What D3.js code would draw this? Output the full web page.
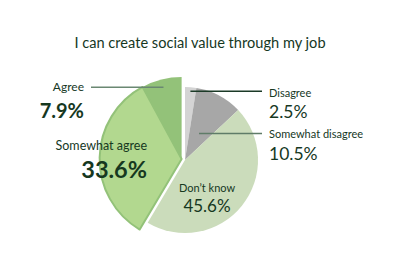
<!DOCTYPE html>
<html>
<head>
<meta charset="utf-8">
<script src="https://cdn.jsdelivr.net/npm/d3@7"></script>
<style>
  body { margin: 0; background: #fff; }
  text { font-family: Lato, "Noto Sans", sans-serif; fill: #16381f; }
</style>
</head>
<body>
<div id="chart"></div>
<script>
const title = 'I can create social value through my job';
const categories = ['Disagree', 'Somewhat disagree', 'Don’t know', 'Somewhat agree', 'Agree'];
const values = [2.5, 10.5, 45.6, 33.6, 7.9];
const colors = ['#d4d4d4', '#a7a7a7', '#cbdcbb', '#b2d88f', '#93c279'];
const exploded = [false, false, false, true, true];

const width = 400;
const height = 267;
const cx = 185, cy = 160;
const radius = 73;

const svg = d3.select('#chart').append('svg')
    .attr('width', width)
    .attr('height', height);

svg.append('text')
    .attr('x', 200)
    .attr('y', 48)
    .attr('text-anchor', 'middle')
    .style('font-size', '14.6px')
    .text(title);

const pie = d3.pie().sort(null).value(d => d);
const pieData = pie(values);

const arcIn = d3.arc().innerRadius(0).outerRadius(radius);
const arcOut = d3.arc().innerRadius(0).outerRadius(82);

// the two agree slices are pulled out together along their shared mid angle
const exStart = pieData[3].startAngle, exEnd = pieData[4].endAngle;
const exMid = (exStart + exEnd) / 2;
const off = 3.5;
const ex = cx + off * Math.sin(exMid), ey = cy - off * Math.cos(exMid);

const g = svg.append('g').attr('transform', 'translate(' + cx + ',' + cy + ')');
const gx = svg.append('g').attr('transform', 'translate(' + ex + ',' + ey + ')');

pieData.forEach((d, i) => {
    if (exploded[i]) return;
    g.append('path').attr('d', arcIn(d)).attr('fill', colors[i]);
});

// agree first, then somewhat agree with its darker outline on top
[4, 3].forEach(i => {
    gx.append('path')
        .attr('d', arcOut(pieData[i]))
        .attr('fill', colors[i])
        .attr('stroke', i === 3 ? '#93c279' : 'none')
        .attr('stroke-width', 2)
        .attr('stroke-linejoin', 'round');
});

function polar(ox, oy, a, r) {
    return [ox + r * Math.sin(a), oy - r * Math.cos(a)];
}
const mid = d => (d.startAngle + d.endAngle) / 2;

// leader lines
const lines = [
    { i: 0, o: [cx, cy], r: 69, x2: 262, color: '#1b3a27' },
    { i: 1, o: [cx, cy], r: 30, x2: 262, color: '#5f7c68' },
    { i: 4, o: [ex, ey], r: 74, x2: 91, color: '#6a8872' }
];
lines.forEach(l => {
    const p = polar(l.o[0], l.o[1], mid(pieData[l.i]), l.r);
    svg.append('line')
        .attr('x1', p[0]).attr('y1', p[1])
        .attr('x2', l.x2).attr('y2', p[1])
        .attr('stroke', l.color)
        .attr('stroke-width', 1.5);
});

// labels
const labels = [
    { i: 0, x: 269, y: 97, vy: 118, anchor: 'start', fs: 11, vfs: 17.5, bold: false },
    { i: 1, x: 269, y: 138, vy: 160, anchor: 'start', fs: 11, vfs: 17.5, bold: false },
    { i: 2, x: 207, y: 192, vy: 212, anchor: 'middle', fs: 11, vfs: 17, bold: false },
    { i: 3, x: 147, y: 150, vy: 178, anchor: 'end', fs: 12.5, vfs: 23.5, bold: true },
    { i: 4, x: 84, y: 91, vy: 118, anchor: 'end', fs: 12, vfs: 20, bold: true }
];
labels.forEach(l => {
    svg.append('text')
        .attr('x', l.x).attr('y', l.y)
        .attr('text-anchor', l.anchor)
        .style('font-size', l.fs + 'px')
        .text(categories[l.i]);
    svg.append('text')
        .attr('x', l.x).attr('y', l.vy)
        .attr('text-anchor', l.anchor)
        .style('font-size', l.vfs + 'px')
        .style('font-weight', l.bold ? 'bold' : 'normal')
        .text(values[l.i].toFixed(1) + '%');
});
</script>
</body>
</html>
